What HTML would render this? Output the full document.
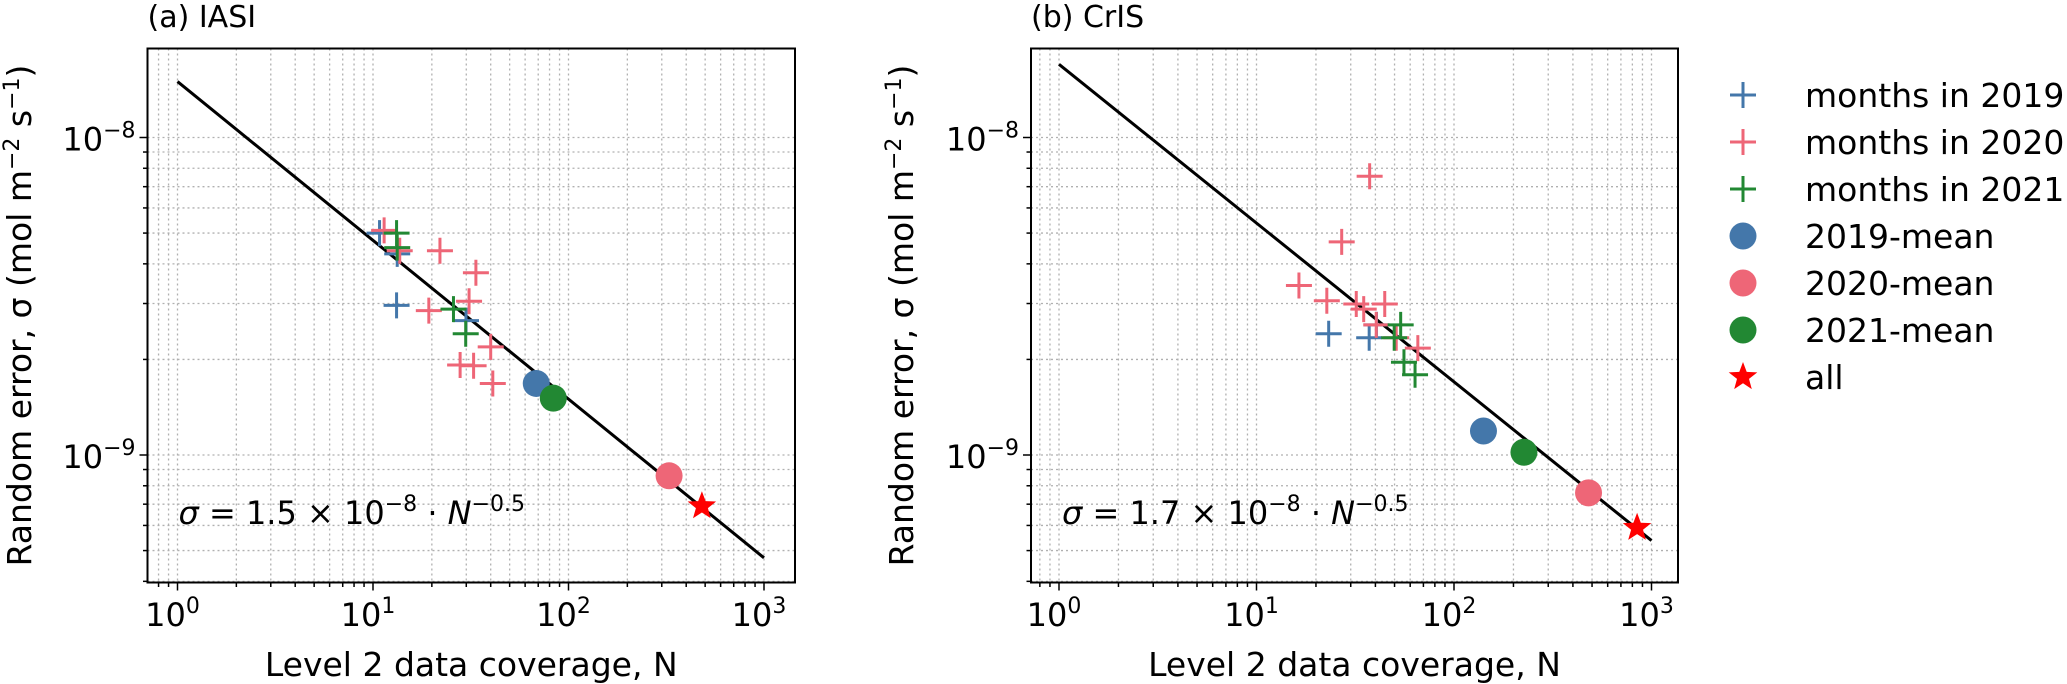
<!DOCTYPE html>
<html><head><meta charset="utf-8">
<style>
html,body{margin:0;padding:0;background:#fff;}
svg{display:block;font-family:"DejaVu Sans","Liberation Sans",sans-serif;}
</style></head>
<body>
<svg id="chart" width="2067" height="684" viewBox="0 0 2067 684" xmlns="http://www.w3.org/2000/svg"></svg>
<script>
// ---- data: panel (a) IASI ----
const iasiN2019 = [10.8, 13.3, 13.2, 29.9];
const iasiS2019 = [5.0e-9, 4.3e-9, 2.96e-9, 2.65e-9];
const iasiN2020 = [11.4, 13.7, 22, 33.6, 31, 19.3, 40, 27.9, 32.7, 41];
const iasiS2020 = [5.1e-9, 4.4e-9, 4.4e-9, 3.75e-9, 3.05e-9, 2.85e-9, 2.19e-9, 1.92e-9, 1.91e-9, 1.68e-9];
const iasiN2021 = [13.2, 13.3, 25.8, 29.8];
const iasiS2021 = [5.0e-9, 4.5e-9, 2.88e-9, 2.41e-9];
const iasiMeanN = [68.4, 327, 83.6];
const iasiMeanS = [1.68e-9, 0.86e-9, 1.51e-9];
const iasiAllN = [481];
const iasiAllS = [6.9e-10];
const iasiCoef = [1.5e-8];
// ---- data: panel (b) CrIS ----
const crisN2019 = [23.2, 37.2, 40.5];
const crisS2019 = [2.41e-9, 2.34e-9, 2.57e-9];
const crisN2020 = [37.4, 27, 16.4, 22.7, 32, 34.9, 44.6, 40.4, 51, 65.6];
const crisS2020 = [7.55e-9, 4.69e-9, 3.42e-9, 3.06e-9, 2.99e-9, 2.88e-9, 2.99e-9, 2.57e-9, 2.34e-9, 2.17e-9];
const crisN2021 = [53.7, 49.8, 55.8, 63.5];
const crisS2021 = [2.57e-9, 2.34e-9, 1.96e-9, 1.79e-9];
const crisMeanN = [141, 480, 226];
const crisMeanS = [1.19e-9, 0.76e-9, 1.02e-9];
const crisAllN = [845];
const crisAllS = [5.9e-10];
const crisCoef = [1.7e-8];
// ---- ticks / legend ----
const xTickExps = [0, 1, 2, 3];
const yTickExps = [-8, -9];
const legendLabels = ["months in 2019","months in 2020","months in 2021","2019-mean","2020-mean","2021-mean","all"];

const C19="#4477AA", C20="#EE6677", C21="#228833";
const NS="http://www.w3.org/2000/svg";
const svg=document.getElementById('chart');
function mk(tag,attrs,parent){const e=document.createElementNS(NS,tag);for(const k in attrs)e.setAttribute(k,attrs[k]);(parent||svg).appendChild(e);return e;}

function panel(o){
  const g=mk('g',{});
  
  
  const L=o.left,R=o.right,T=48.5,B=582.5;
  const x0=o.x0, dx=o.dx;
  const y8=137.5, dy=317.5;
  const X=n=>x0+Math.log10(n)*dx;
  const Y=s=>y8-(Math.log10(s)+8)*dy;
  const lxMin=(L-x0)/dx, lxMax=(R-x0)/dx;
  const lyMax=-8+(y8-T)/dy, lyMin=-8-(B-y8)/dy;
  const grid=mk('g',{stroke:'#b0b0b0','stroke-width':1.3,'stroke-dasharray':'2,3'},g);
  
  
  const ticks=mk('g',{stroke:'#000','stroke-width':1.5},g);
  for(let e=-1;e<=3;e++)for(let m=1;m<10;m++){
    const v=m*Math.pow(10,e), lv=Math.log10(v);
    if(lv<lxMin||lv>lxMax)continue;
    const px=X(v);
    mk('line',{x1:px,x2:px,y1:T,y2:B},grid);
    mk('line',{x1:px,x2:px,y1:B,y2:B+(m===1?8:4.5)},ticks);
  }
  for(let e=-10;e<=-8;e++)for(let m=1;m<10;m++){
    const v=m*Math.pow(10,e), lv=Math.log10(v);
    if(lv<lyMin||lv>lyMax)continue;
    const py=Y(v);
    mk('line',{x1:L,x2:R,y1:py,y2:py},grid);
    mk('line',{x1:L-(m===1?8:4.5),x2:L,y1:py,y2:py},ticks);
  }
  xTickExps.forEach(e=>{
    const t=mk('text',{x:X(Math.pow(10,e))-5,y:626,'font-size':32,'text-anchor':'middle',fill:'#000'},g);
    
    
    t.appendChild(document.createTextNode('10'));
    const s=mk('tspan',{dy:-13,'font-size':22},t);s.textContent=String(e);
  });
  yTickExps.forEach(e=>{
    const t=mk('text',{x:L-12,y:Y(Math.pow(10,e))+13,'font-size':32,'text-anchor':'end',fill:'#000'},g);
    
    
    t.appendChild(document.createTextNode('10'));
    const s=mk('tspan',{dy:-13,'font-size':22},t);s.textContent='\u2212'+Math.abs(e);
  });
  const fl=mk('line',{x1:X(1),y1:Y(o.coef[0]),x2:X(1000),y2:Y(o.coef[0]*Math.pow(1000,-0.5)),stroke:'#000','stroke-width':3},g);
  
  
  function plus(ns,ss,col,nm){
    ns.forEach((n,i)=>{
      const cx=X(n),cy=Y(ss[i]);
      const p=mk('path',{d:`M${cx-13},${cy}H${cx+13}M${cx},${cy-13}V${cy+13}`,stroke:col,'stroke-width':3,fill:'none'},g);
      
      
    });
  }
  plus(o.n19,o.s19,C19,'month-2019-marker');
  plus(o.n20,o.s20,C20,'month-2020-marker');
  plus(o.n21,o.s21,C21,'month-2021-marker');
  const mc=[C19,C20,C21];
  o.mn.forEach((n,i)=>{
    const c=mk('circle',{cx:X(n),cy:Y(o.ms[i]),r:13.5,fill:mc[i]},g);
    
    
  });
  o.an.forEach((n,i)=>{
    const s=mk('path',{d:star(X(n),Y(o.as[i]),15),fill:'#ff0000'},g);
    
    
  });
  const fr=mk('rect',{x:L,y:T,width:R-L,height:B-T,fill:'none',stroke:'#000','stroke-width':2},g);
  
  
  const eq=mk('text',{x:L+31,y:524,'font-size':32,fill:'#000'},g);
  
  
  eq.innerHTML=`<tspan font-style="italic">σ</tspan> = ${o.coefTxt} × 10<tspan dy="-13" font-size="22">−8</tspan><tspan dy="13"> · </tspan><tspan font-style="italic">N</tspan><tspan dy="-13" font-size="22">−0.5</tspan>`;
  const xl=mk('text',{x:(L+R)/2,y:676,'font-size':33,'text-anchor':'middle',fill:'#000'},g);
  
  
  xl.textContent='Level 2 data coverage, N';
  const yx=o.ylx, yy=(T+B)/2;
  const yl=mk('text',{x:yx,y:yy,'font-size':33,'text-anchor':'middle',fill:'#000',transform:`rotate(-90 ${yx} ${yy})`},g);
  
  
  yl.innerHTML='Random error, σ (mol m<tspan dy="-12" font-size="22">−2</tspan><tspan dy="12"> s</tspan><tspan dy="-12" font-size="22">−1</tspan><tspan dy="12">)</tspan>';
  const tt=mk('text',{x:L,y:27,'font-size':30,fill:'#000'},g);
  
  
  tt.textContent=o.title;
}
function star(cx,cy,r){
  let d='';
  for(let i=0;i<10;i++){
    const a=-Math.PI/2+i*Math.PI/5, rr=i%2?r*0.42:r;
    d+=(i?'L':'M')+(cx+rr*Math.cos(a)).toFixed(1)+','+(cy+rr*Math.sin(a)).toFixed(1);
  }
  return d+'Z';
}
panel({name:'panel-iasi',title:'(a) IASI',left:147.5,right:795,x0:177.5,dx:195.5,ylx:31,coef:iasiCoef,coefTxt:'1.5',
  n19:iasiN2019,s19:iasiS2019,n20:iasiN2020,s20:iasiS2020,n21:iasiN2021,s21:iasiS2021,mn:iasiMeanN,ms:iasiMeanS,an:iasiAllN,as:iasiAllS});
panel({name:'panel-cris',title:'(b) CrIS',left:1031,right:1678,x0:1059,dx:197.5,ylx:913,coef:crisCoef,coefTxt:'1.7',
  n19:crisN2019,s19:crisS2019,n20:crisN2020,s20:crisS2020,n21:crisN2021,s21:crisS2021,mn:crisMeanN,ms:crisMeanS,an:crisAllN,as:crisAllS});

const lg=mk('g',{});


const lcols=[C19,C20,C21,C19,C20,C21,'#ff0000'];
legendLabels.forEach((lab,i)=>{
  const y=95+i*47, x=1743;
  const e=mk('g',{},lg);
  
  
  if(i<3) mk('path',{d:`M${x-13},${y}H${x+13}M${x},${y-13}V${y+13}`,stroke:lcols[i],'stroke-width':3},e);
  else if(i<6) mk('circle',{cx:x,cy:y,r:13.5,fill:lcols[i]},e);
  else mk('path',{d:star(x,y,15),fill:lcols[i]},e);
  const t=mk('text',{x:1805,y:y+12,'font-size':33,fill:'#000'},e);
  t.textContent=lab;
});
</script>
</body></html>
